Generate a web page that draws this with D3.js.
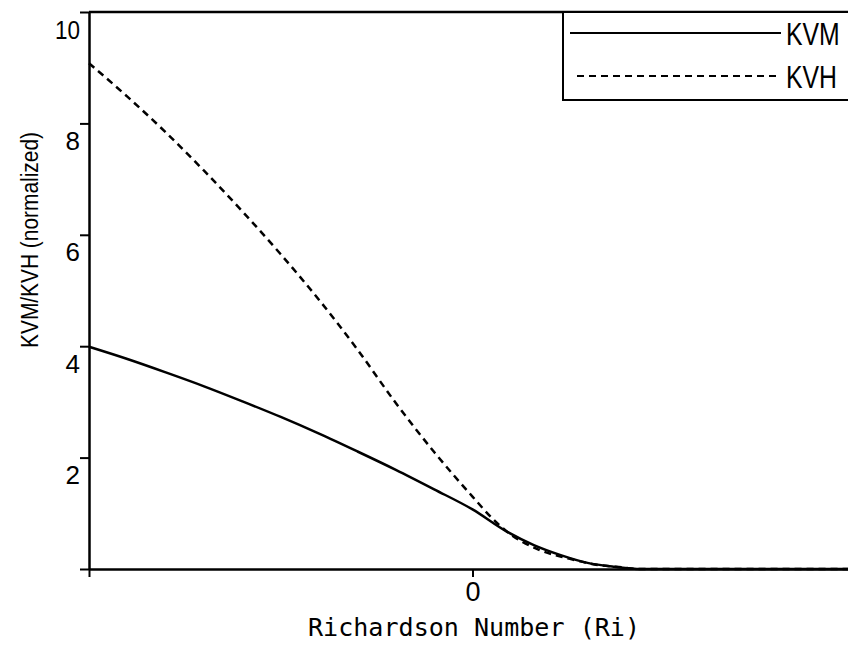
<!DOCTYPE html>
<html>
<head>
<meta charset="utf-8">
<script src="https://cdn.jsdelivr.net/npm/d3@7"></script>
<style>
  html, body { margin: 0; padding: 0; background: #fff; }
  svg { display: block; }
</style>
</head>
<body>
<svg id="chart" width="848" height="651"></svg>
<script>
// ---- data ----
const riKVM = [-1.0, -0.9, -0.8, -0.7, -0.6, -0.5, -0.4, -0.3, -0.2, -0.1, 0.0, 0.09, 0.16, 0.23, 0.30, 0.37, 0.44, 1.0];
const kvm   = [3.99, 3.77, 3.53, 3.28, 3.01, 2.73, 2.43, 2.11, 1.78, 1.43, 1.07, 0.67, 0.43, 0.25, 0.11, 0.04, 0.0, 0.0];
const riKVH = [-1.0, -0.9, -0.8, -0.7, -0.6, -0.5, -0.4, -0.3, -0.2, -0.1, 0.0, 0.05, 0.09, 0.175, 0.25, 0.33, 0.375, 0.44, 1.0];
const kvh   = [9.08, 8.48, 7.84, 7.15, 6.42, 5.65, 4.83, 3.94, 2.98, 2.10, 1.30, 0.92, 0.67, 0.34, 0.19, 0.07, 0.04, 0.0, 0.0];
const yTicks = [0, 2, 4, 6, 8, 10];
const xTicks = [-1, 0, 1];
const xTickLabels = {"0": "0"};
const seriesNames = ["KVM", "KVH"];
const xTitle = "Richardson Number (Ri)";
const yTitle = "KVM/KVH (normalized)";

// ---- layout ----
const svg = d3.select("#chart");
const x = d3.scaleLinear().domain([-1, 1]).range([89, 856]);
const y = d3.scaleLinear().domain([0, 10]).range([569, 12]);

const sans = "'Liberation Sans', Arial, Helvetica, sans-serif";
const mono = "'DejaVu Sans Mono', monospace";

// frame top border
svg.append("line")
  .attr("x1", x(-1)).attr("x2", x(1))
  .attr("y1", y(10)).attr("y2", y(10))
  .attr("stroke", "#000").attr("stroke-width", 2.5);

// y axis
const gy = svg.append("g").attr("transform", `translate(${x(-1)},0)`)
  .call(d3.axisLeft(y).tickValues(yTicks).tickSize(9).tickSizeOuter(0)
    .tickFormat(d => d === 0 ? "" : d));
gy.select(".domain").attr("stroke", "#000").attr("stroke-width", 2.5);
gy.selectAll(".tick line").attr("stroke", "#000").attr("stroke-width", 2);
gy.selectAll(".tick text")
  .attr("x", -9).attr("dy", null).attr("y", 26)
  .attr("font-family", sans).attr("font-size", 26).attr("fill", "#000")
  .each(function(d) { if (d === 10) d3.select(this).attr("textLength", 25).attr("lengthAdjust", "spacingAndGlyphs"); });

// x axis
const gx = svg.append("g").attr("transform", `translate(0,${y(0)})`)
  .call(d3.axisBottom(x).tickValues(xTicks).tickSize(8).tickSizeOuter(0)
    .tickFormat(d => xTickLabels[String(d)] || ""));
gx.select(".domain").attr("stroke", "#000").attr("stroke-width", 2.5);
gx.selectAll(".tick line").attr("stroke", "#000").attr("stroke-width", 2);
gx.selectAll(".tick text")
  .attr("y", 13).attr("dy", "0.71em")
  .attr("font-family", sans).attr("font-size", 27).attr("fill", "#000");

// axis titles
svg.append("text")
  .attr("x", 474).attr("y", 636)
  .attr("text-anchor", "middle")
  .attr("font-family", mono).attr("font-size", 24)
  .attr("textLength", 332).attr("lengthAdjust", "spacingAndGlyphs")
  .text(xTitle);

svg.append("text")
  .attr("transform", "translate(38,240) rotate(-90)")
  .attr("text-anchor", "middle")
  .attr("font-family", sans).attr("font-size", 23)
  .attr("textLength", 216).attr("lengthAdjust", "spacingAndGlyphs")
  .text(yTitle);

// curves
const line = d3.line().x(d => x(d[0])).y(d => y(d[1])).curve(d3.curveMonotoneX);
svg.append("path")
  .datum(riKVM.map((r, i) => [r, kvm[i]]))
  .attr("d", line).attr("fill", "none").attr("stroke", "#000").attr("stroke-width", 2.5);
svg.append("path")
  .datum(riKVH.map((r, i) => [r, kvh[i]]))
  .attr("d", line).attr("fill", "none").attr("stroke", "#000").attr("stroke-width", 2.5)
  .attr("stroke-dasharray", "7,5");

// legend
const lg = svg.append("g");
lg.append("rect")
  .attr("x", 563).attr("y", y(10)).attr("width", 320).attr("height", 100 - y(10))
  .attr("fill", "#fff").attr("stroke", "#000").attr("stroke-width", 2);
const legendRows = [
  {name: seriesNames[0], ly: 33, dash: null, x1: 570},
  {name: seriesNames[1], ly: 76, dash: "7,5", x1: 577}
];
legendRows.forEach(r => {
  lg.append("line").attr("x1", r.x1).attr("x2", 781).attr("y1", r.ly).attr("y2", r.ly)
    .attr("stroke", "#000").attr("stroke-width", 2)
    .attr("stroke-dasharray", r.dash);
  lg.append("text")
    .attr("transform", `translate(786,${r.ly + 12}) scale(0.8,1)`)
    .attr("font-family", sans).attr("font-size", 31)
    .text(r.name);
});
</script>
</body>
</html>
